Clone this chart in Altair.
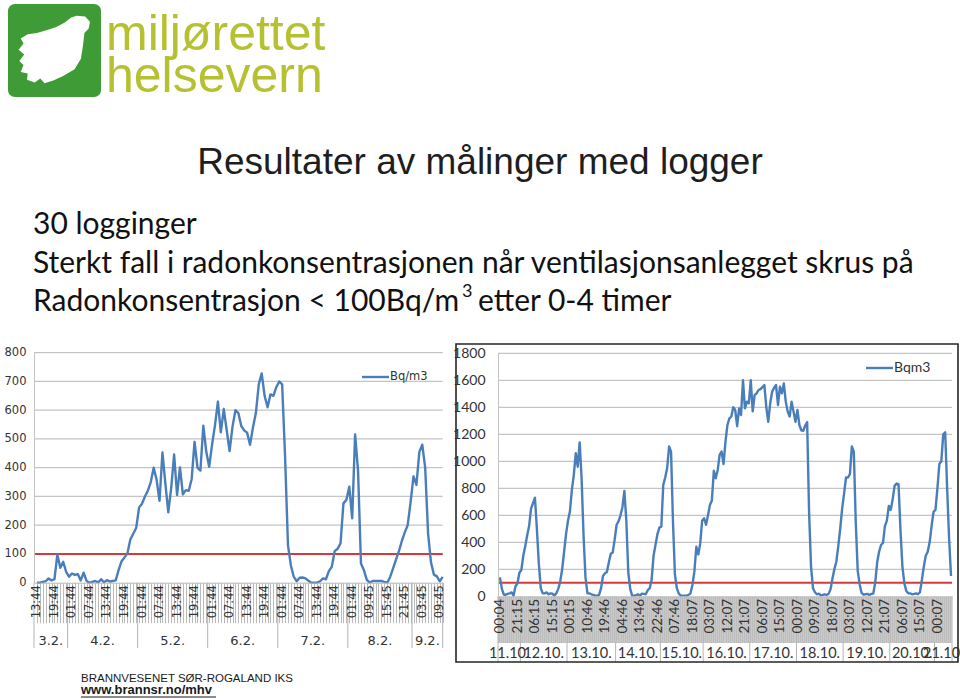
import altair as alt
import pandas as pd

# ------------------------------------------------------------------ data
left_values = [
    0, 0, 3, 5, 15, 8, 12, 98, 52, 73, 38, 21, 32, 27, 30, 8, 35, 6, 0, 3, 6, 1, 12, 1, 9, 4, 6, 8,
    45, 75, 88, 102, 150, 170, 190, 262, 275, 300, 320, 350, 400, 358, 285, 453, 345, 245, 330, 446,
    305, 401, 307, 322, 320, 360, 490, 400, 390, 546, 456, 403,
    480, 548, 630, 523, 604, 531, 458, 543, 600, 590,
    545, 530, 522, 480, 540, 590, 690, 728, 650, 610, 655, 650, 680, 700, 690,
    440, 130, 60, 20, 5, 17, 18, 15, 7, 0, 0, 0, 5, 15, 12, 40, 55, 110, 118,
    137, 276, 288, 334, 224, 516, 390, 67, 44, 10, 0,
    6, 6, 6, 6, 3, 0, 20, 50, 80, 110, 145, 175, 200, 280, 370, 340, 455, 480, 400, 170, 70, 28, 22, 5, 20,
]
left_time_labels = ["13:44", "19:44", "01:44", "07:44", "13:44", "19:44", "01:44", "07:44",
                    "13:44", "19:44", "01:44", "07:44", "13:44", "19:44", "01:44", "07:44",
                    "13:44", "19:44", "01:44", "09:45", "15:45", "21:45", "03:45", "09:45"]
left_days = ["3.2.", "4.2.", "5.2.", "6.2.", "7.2.", "8.2.", "9.2."]
left_day_bounds = [-1, 10.5, 34.5, 58.5, 82.5, 106.5, 128.5, 139]
left_yticks = [0, 100, 200, 300, 400, 500, 600, 700, 800]

right_values = [
    140, 55, 12, 12, 18, 22, 29, 5, 75, 95,
    175, 195, 300, 370, 450, 520, 650, 689, 730, 500,
    240, 60, 22, 22, 29, 15, 22, 20, 5, 22,
    55, 110, 200, 330, 460, 560, 630, 790, 900, 1060,
    960, 1140, 874, 450, 140, 22, 22, 15, 10, 5,
    5, 10, 60, 150, 170, 180, 250, 315, 325, 420,
    530, 555, 600, 660, 780, 560, 180, 55, 5, 5,
    8, 15, 5, 20, 18, 15, 45, 58, 120, 300,
    380, 460, 509, 516, 824, 880, 950, 1110, 1072, 550,
    160, 59, 20, 5, 5, 5, 5, 10, 22, 84,
    183, 367, 310, 390, 560, 578, 530, 600, 676, 710,
    930, 874, 936, 1047, 1072, 980, 1146, 1269, 1318, 1331,
    1400, 1380, 1260, 1392, 1343, 1600, 1392, 1442, 1430, 1600,
    1370, 1491, 1503, 1528, 1535, 1550, 1565, 1400, 1293, 1430,
    1515, 1545, 1565, 1417, 1553, 1503, 1577, 1442, 1368, 1331,
    1442, 1368, 1293, 1380, 1269, 1230, 1225, 1265, 1290, 620,
    220, 60, 30, 15, 20, 8, 10, 15, 10, 18,
    50, 130, 200, 256, 370, 500, 650, 760, 880, 880,
    905, 1110, 1072, 550, 190, 90, 25, 12, 15, 18,
    10, 18, 20, 100, 250, 330, 380, 395, 520, 560,
    670, 640, 720, 820, 835, 830, 490, 220, 95, 40,
    22, 22, 15, 18, 22, 15, 30, 120, 220, 300,
    330, 400, 520, 625, 640, 800, 980, 1000, 1200, 1215,
    800, 430, 150,
]
right_time_labels = ["00:04", "21:15", "06:15", "15:15", "00:15", "10:46", "19:46", "04:46",
                     "13:46", "22:46", "07:46", "18:07", "03:07", "12:07", "21:07", "06:07",
                     "15:07", "00:07", "09:07", "18:07", "03:07", "12:07", "21:07", "06:07",
                     "15:07", "00:07"]
right_days = ["11.10.", "12.10.", "13.10.", "14.10.", "15.10.", "16.10.", "17.10.",
              "18.10.", "19.10.", "20.10.", "21.10."]
right_day_bounds = [-1, 10.5, 34.5, 59.5, 82.5, 104.5, 128.5, 152.5, 176.5, 200.5, 223.5, 232.5]
right_yticks = [0, 200, 400, 600, 800, 1000, 1200, 1400, 1600, 1800]

limit_value = [100]
left_series_name = "Bq/m3"
right_series_name = "Bqm3"

logo_words = ["miljørettet", "helsevern"]
title_text = "Resultater av målinger med logger"
bullet_lines = ["30 logginger",
                "Sterkt fall i radonkonsentrasjonen når ventilasjonsanlegget skrus på",
                "Radonkonsentrasjon < 100Bq/m"]
bullet_sup = "3"
bullet_tail = "etter 0-4 timer"
footer_lines = ["BRANNVESENET SØR-ROGALAND IKS", "www.brannsr.no/mhv"]

# ------------------------------------------------------------------ helpers
W, H = 960, 699
BLUE = "#4a7ebb"
RED = "#d8383c"
one = pd.DataFrame({"a": [0]})


def txt(s, x, y, **kw):
    base = dict(align="left", baseline="alphabetic")
    base.update(kw)
    return alt.Chart(pd.DataFrame({"t": [s]})).mark_text(**base).encode(
        x=alt.value(x), y=alt.value(y), text="t:N")


def label_expr(labels, step):
    arr = "[" + ",".join("'" + s + "'" for s in labels) + "]"
    return f"datum.value % {step} === 0 ? {arr}[datum.value / {step}] : ''"


def panel(values, time_labels, step, days, bounds, yticks, ymax,
          px0, px1, py0, py1, xfont, xsize, yfont, ysize, tick_len, tick_color, tick_w,
          sep_bottom, day_y, day_font, day_size, lab_pad, legend_name, legend_x, legend_y,
          n_dom):
    df = pd.DataFrame({"i": list(range(len(values))), "v": values})

    def xs():
        return alt.Scale(domain=[-1, n_dom], range=[px0, px1], nice=False, zero=False)

    def ys():
        return alt.Scale(domain=[0, ymax], range=[py0, py1], nice=False, zero=False)

    grid = alt.Chart(pd.DataFrame({"t": yticks[1:]})).mark_rule(
        color="#c4c4c4", strokeWidth=1.2).encode(
        y=alt.Y("t:Q", scale=ys(), axis=None), x=alt.value(px0), x2=alt.value(px1))

    xaxis = alt.Axis(orient="bottom", offset=-(H - py0), values=list(range(len(values))),
                     labelExpr=label_expr(time_labels, step), labelAngle=270,
                     labelPadding=-(tick_len - 2), tickSize=tick_len, tickColor=tick_color,
                     tickWidth=tick_w, domainColor="#b8b8b8", labelFont=xfont,
                     labelFontSize=xsize, labelColor="#333333", labelOverlap=False,
                     labelFlush=False, labelBound=False, grid=False, title=None, zindex=1)
    yaxis = alt.Axis(orient="left", offset=-px0, values=yticks, ticks=False, format="d",
                     domainColor="#c4c4c4", labelPadding=lab_pad, labelFont=yfont,
                     labelFontSize=ysize, labelColor="#333333", grid=False, title=None,
                     labelOverlap=False, zindex=1)

    line = alt.Chart(df).mark_line(color=BLUE, strokeWidth=2.4, strokeJoin="round").encode(
        x=alt.X("i:Q", scale=xs(), axis=xaxis), y=alt.Y("v:Q", scale=ys(), axis=yaxis))

    red = alt.Chart(pd.DataFrame({"lim": limit_value})).mark_rule(
        color=RED, strokeWidth=2).encode(
        y=alt.Y("lim:Q", scale=ys(), axis=None), x=alt.value(px0), x2=alt.value(px1))

    seps = alt.Chart(pd.DataFrame({"b": bounds})).mark_rule(
        color="#b4b4b4", strokeWidth=1).encode(
        x=alt.X("b:Q", scale=xs(), axis=None), y=alt.value(py0), y2=alt.value(sep_bottom))

    centers = [(bounds[k] + bounds[k + 1]) / 2 for k in range(len(days))]
    dlab = alt.Chart(pd.DataFrame({"c": centers, "d": days})).mark_text(
        font=day_font, fontSize=day_size, color="#333333", baseline="middle").encode(
        x=alt.X("c:Q", scale=xs(), axis=None), y=alt.value(day_y), text="d:N")

    leg_line = alt.Chart(one).mark_rule(color=BLUE, strokeWidth=2.4).encode(
        x=alt.value(legend_x), x2=alt.value(legend_x + 27), y=alt.value(legend_y))
    leg_txt = txt(legend_name, legend_x + 28, legend_y, baseline="middle",
                  font=yfont, fontSize=ysize, color="#333333")
    return [grid, red, seps, dlab, leg_line, leg_txt, line]


left_layers = panel(
    left_values, left_time_labels, 6, left_days, left_day_bounds, left_yticks, 800,
    34, 442.7, 582.7, 352.7, "DejaVu Sans", 11.5, "DejaVu Sans", 11.5, 40, "#a8a8a8", 0.8,
    648, 641, "DejaVu Sans", 13, 8, left_series_name, 362, 377, 139)

gray_band = alt.Chart(one).mark_rect(color="#bdbdbd").encode(
    x=alt.value(498), x2=alt.value(952), y=alt.value(597), y2=alt.value(643))
right_layers = panel(
    right_values, right_time_labels, 9, right_days, right_day_bounds, right_yticks, 1800,
    498, 952, 596.3, 353.3, "Lato", 13.5, "Lato", 14, 46, "#d2d2d2", 0.6,
    662, 654, "Lato", 14.5, 13, right_series_name, 866, 368, 232.5)
box = alt.Chart(one).mark_rect(filled=False, stroke="#262626", strokeWidth=1.6).encode(
    x=alt.value(456), x2=alt.value(958), y=alt.value(344), y2=alt.value(662))

# ------------------------------------------------------------------ header / footer
hand_path = ("M0.62,-0.95 L0.86,-0.93 L1.0,-0.78 L0.96,-0.58 L0.84,-0.46 "
             "L0.8,-0.1 L0.74,0.28 L0.56,0.58 L0.22,0.78 L-0.05,0.9 "
             "L-0.3,0.98 L-0.42,0.84 L-0.58,0.96 L-0.8,0.88 L-0.78,0.7 "
             "L-0.98,0.66 L-0.9,0.46 L-1.02,0.34 L-0.88,0.16 L-1.04,0.02 "
             "L-0.9,-0.16 L-0.98,-0.3 L-0.78,-0.42 L-0.52,-0.46 L-0.22,-0.54 L0.02,-0.62 "
             "L0.28,-0.76 L0.46,-0.9 Z")
logo_box = alt.Chart(one).mark_rect(color="#3f9b35", cornerRadius=7).encode(
    x=alt.value(8), x2=alt.value(101), y=alt.value(4), y2=alt.value(97))
logo_hand = alt.Chart(one).mark_point(shape=hand_path, filled=True, color="white",
                                      opacity=1, size=4900).encode(
    x=alt.value(55), y=alt.value(49))
LOGO_C = "#b6c131"
logo_t1 = txt(logo_words[0], 106, 50, font="Liberation Sans", fontSize=50, color=LOGO_C)
logo_t2 = txt(logo_words[1], 106, 92, font="Liberation Sans", fontSize=50, color=LOGO_C)

title = txt(title_text, 480, 174, align="center", font="Liberation Sans",
            fontSize=37, color="#1e1e1e")
TF = "Lato"
b1 = txt(bullet_lines[0], 33, 234, font=TF, fontSize=30, color="#111111")
b2 = txt(bullet_lines[1], 33, 273, font=TF, fontSize=30, color="#111111")
b3 = txt(bullet_lines[2], 33, 311, font=TF, fontSize=30, color="#111111")
b3s = txt(bullet_sup, 462, 297, font=TF, fontSize=18, color="#111111")
b3t = txt(bullet_tail, 478, 311, font=TF, fontSize=30, color="#111111")

f1 = txt(footer_lines[0], 81, 682, font="Liberation Sans", fontSize=11.5, color="#1a1a1a")
f2 = txt(footer_lines[1], 81, 694, font="Liberation Sans", fontSize=13,
         fontWeight="bold", color="#1a1a1a")
f2u = alt.Chart(one).mark_rule(color="#1a1a1a", strokeWidth=1).encode(
    x=alt.value(81), x2=alt.value(216), y=alt.value(697))

chart = alt.layer(
    logo_box, logo_hand, logo_t1, logo_t2, title, b1, b2, b3, b3s, b3t,
    *left_layers, gray_band, *right_layers, box, f1, f2, f2u,
).resolve_scale(x="independent", y="independent").resolve_axis(
    x="independent", y="independent"
).properties(
    width=W, height=H, autosize=alt.AutoSizeParams(type="none"), padding=0,
    background="white",
).configure_view(stroke=None)

chart.save("out.html", embed_options={"renderer": "svg", "actions": False})
